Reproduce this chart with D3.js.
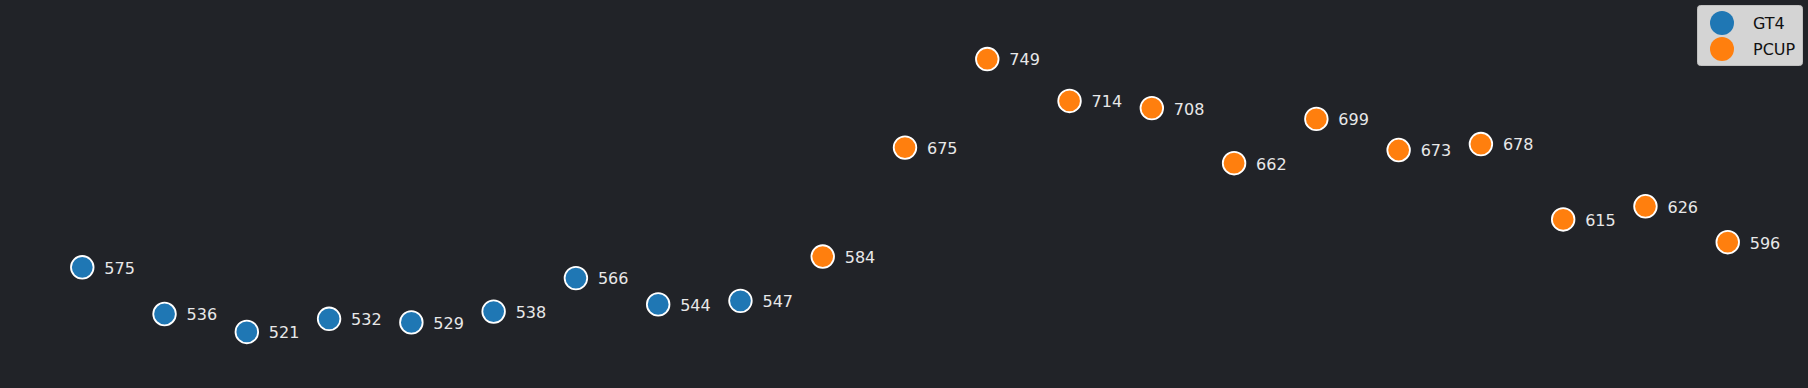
<!DOCTYPE html>
<html>
<head>
<meta charset="utf-8">
<script src="https://cdn.jsdelivr.net/npm/d3@7"></script>
<style>
  html, body { margin: 0; padding: 0; background: #212328; }
  svg { display: block; font-family: "DejaVu Sans", sans-serif; }
</style>
</head>
<body>
<svg width="1808" height="388"></svg>
<script>
const gt4Values = [575, 536, 521, 532, 529, 538, 566, 544, 547];
const pcupValues = [584, 675, 749, 714, 708, 662, 699, 673, 678, 615, 626, 596];
const seriesNames = ["GT4", "PCUP"];
const seriesColors = ["#1f77b4", "#ff7f0e"];

const width = 1808, height = 388;
const svg = d3.select("svg");
svg.append("rect").attr("width", width).attr("height", height).attr("fill", "#212328");

const points = gt4Values.map((v) => ({ s: 0, v }))
  .concat(pcupValues.map((v) => ({ s: 1, v })))
  .map((d, i) => ({ ...d, i }));

const n = points.length;
const x = d3.scaleLinear().domain([-1, n]).range([0, 1810]);
const yMin = d3.min(points, (d) => d.v), yMax = d3.max(points, (d) => d.v);
const pad = (yMax - yMin) * 0.05;
const y = d3.scaleLinear().domain([yMin - pad, yMax + pad]).range([345.6, 45.4]);

const g = svg.append("g");
g.selectAll("circle")
  .data(points)
  .join("circle")
  .attr("cx", (d) => x(d.i))
  .attr("cy", (d) => y(d.v))
  .attr("r", 11.3)
  .attr("fill", (d) => seriesColors[d.s])
  .attr("stroke", "#ffffff")
  .attr("stroke-width", 1.8);

g.selectAll("text")
  .data(points)
  .join("text")
  .attr("x", (d) => x(d.i) + 22)
  .attr("y", (d) => y(d.v))
  .attr("dy", "0.4em")
  .attr("fill", "#e8e8e8")
  .attr("font-size", 16)
  .text((d) => d.v);

// legend
const legend = svg.append("g");
legend.append("rect")
  .attr("x", 1697.5).attr("y", 5.5)
  .attr("width", 105).attr("height", 60)
  .attr("rx", 3)
  .attr("fill", "#d4d4d4")
  .attr("stroke", "#c0c0c0");
const item = legend.selectAll("g.item")
  .data(seriesNames)
  .join("g")
  .attr("class", "item")
  .attr("transform", (d, i) => `translate(0,${23 + i * 26})`);
item.append("circle")
  .attr("cx", 1722).attr("cy", 0).attr("r", 12)
  .attr("fill", (d, i) => seriesColors[i]);
item.append("text")
  .attr("x", 1753).attr("y", 0).attr("dy", "0.38em")
  .attr("font-size", 16)
  .attr("fill", "#111")
  .text((d) => d);
</script>
</body>
</html>
